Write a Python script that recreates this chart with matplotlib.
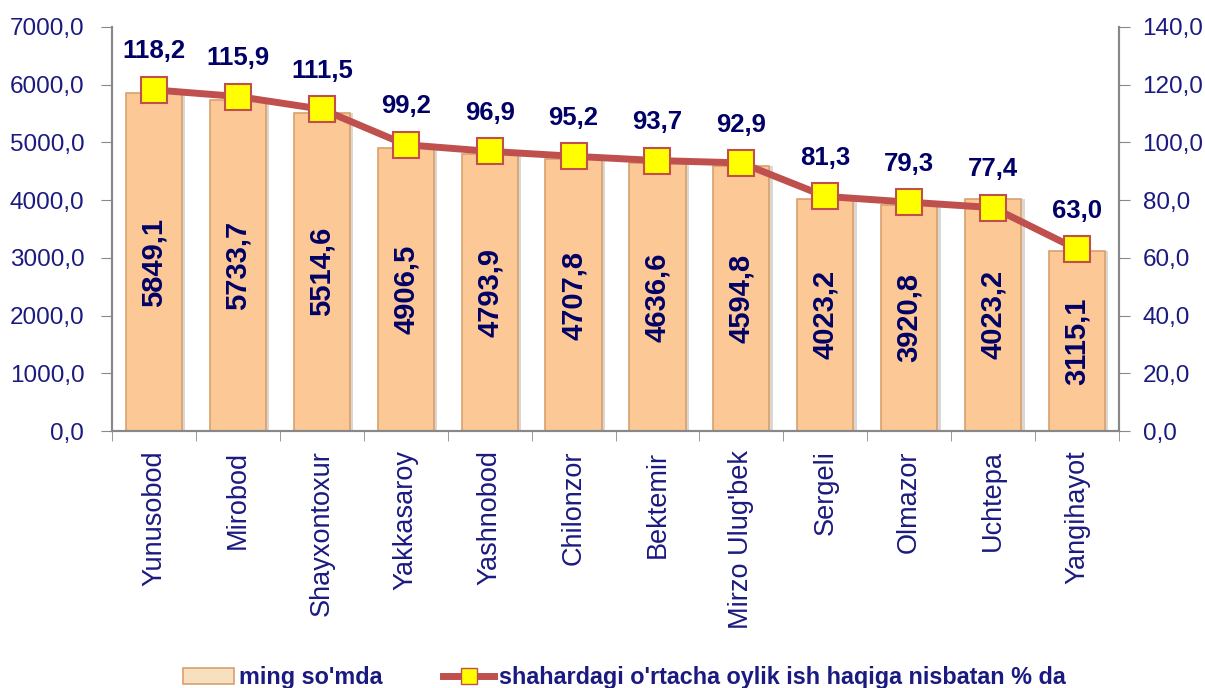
import matplotlib
matplotlib.use("Agg")
import matplotlib.pyplot as plt
from matplotlib.lines import Line2D
from matplotlib.patches import Patch

districts = ["Yunusobod", "Mirobod", "Shayxontoxur", "Yakkasaroy", "Yashnobod",
             "Chilonzor", "Bektemir", "Mirzo Ulug'bek", "Sergeli", "Olmazor",
             "Uchtepa", "Yangihayot"]
salary = [5849.1, 5733.7, 5514.6, 4906.5, 4793.9, 4707.8, 4636.6, 4594.8,
          4023.2, 3920.8, 4023.2, 3115.1]
percent = [118.2, 115.9, 111.5, 99.2, 96.9, 95.2, 93.7, 92.9, 81.3, 79.3, 77.4, 63.0]

NAVY = "#1A1A80"
LABEL = "#000066"
BAR = "#FCC896"
BAR_EDGE = "#D9A06E"
LINE = "#C0504D"

plt.rcParams['font.family'] = ['Liberation Sans', 'DejaVu Sans']

def fmt(v):
    return ("%.1f" % v).replace(".", ",")

fig = plt.figure(figsize=(12.05, 6.88), dpi=100)
ax = fig.add_axes([0.093, 0.3735, 0.8356, 0.5873])
ax2 = ax.twinx()

x = list(range(len(districts)))

# shadow, then bars
shadow = ax.bar(x, salary, width=0.67, color="#B8B0A8", alpha=0.5, zorder=1)
for r in shadow:
    r.set_x(r.get_x() + 0.04)
bars = ax.bar(x, salary, width=0.67, color=BAR, edgecolor=BAR_EDGE, linewidth=1.2, zorder=2)

for xi, v in zip(x, salary):
    ax.text(xi, v / 2, fmt(v), rotation=90, ha="center", va="center",
            fontsize=21, fontweight="bold", color=LABEL, zorder=5)

ax.set_xlim(-0.5, len(districts) - 0.5)
ax.set_ylim(0, 7000)
ax.set_yticks(range(0, 7001, 1000))
ax.set_yticklabels([fmt(t) for t in range(0, 7001, 1000)])
ax.set_xticks(x)
ax.set_xticklabels(districts, rotation=90, fontsize=19.5, color=NAVY)
ax.set_xticks([i + 0.5 for i in range(-1, len(districts))], minor=True)
ax.tick_params(axis="x", which="major", length=0, pad=14)
ax.tick_params(axis="x", which="minor", length=7, color="#888888", direction="out")
ax.tick_params(axis="y", labelsize=17.5, labelcolor=NAVY, length=8, color="#888888", pad=12)

ax2.plot(x, percent, color=LINE, linewidth=5, marker="s", markersize=19,
         markerfacecolor="#FFFF00", markeredgecolor=LINE, markeredgewidth=1.5, zorder=4)
for xi, v in zip(x, percent):
    ax2.annotate(fmt(v), (xi, v), xytext=(0, 19), textcoords="offset points",
                 ha="center", va="bottom", fontsize=18.5, fontweight="bold", color=LABEL)
ax2.set_ylim(0, 140)
ax2.set_yticks(range(0, 141, 20))
ax2.set_yticklabels([fmt(t) for t in range(0, 141, 20)])
ax2.tick_params(axis="y", labelsize=17.5, labelcolor=NAVY, length=8, color="#888888", pad=9)

for a in (ax, ax2):
    a.spines["top"].set_visible(False)
    for s in ("left", "right", "bottom"):
        a.spines[s].set_color("#888888")
        a.spines[s].set_linewidth(1.5)
ax2.patch.set_visible(False)

handles = [
    Patch(facecolor="#F7E0C0", edgecolor=BAR_EDGE, linewidth=1.2),
    Line2D([0], [0], color=LINE, linewidth=5, marker="s", markersize=12,
           markerfacecolor="#FFFF00", markeredgecolor=LINE),
]
leg = fig.legend(handles, ["ming so'mda", "shahardagi o'rtacha oylik ish haqiga nisbatan % da"],
                 loc="center", bbox_to_anchor=(0.518, 0.015), ncol=2, frameon=False,
                 prop={"family": ["Liberation Sans Narrow", "Liberation Sans"],
                       "weight": "bold", "size": 16.8},
                 handlelength=2.2, handletextpad=0.2, columnspacing=2.6)
for t in leg.get_texts():
    t.set_color(NAVY)

fig.savefig("out.png", dpi=100)
